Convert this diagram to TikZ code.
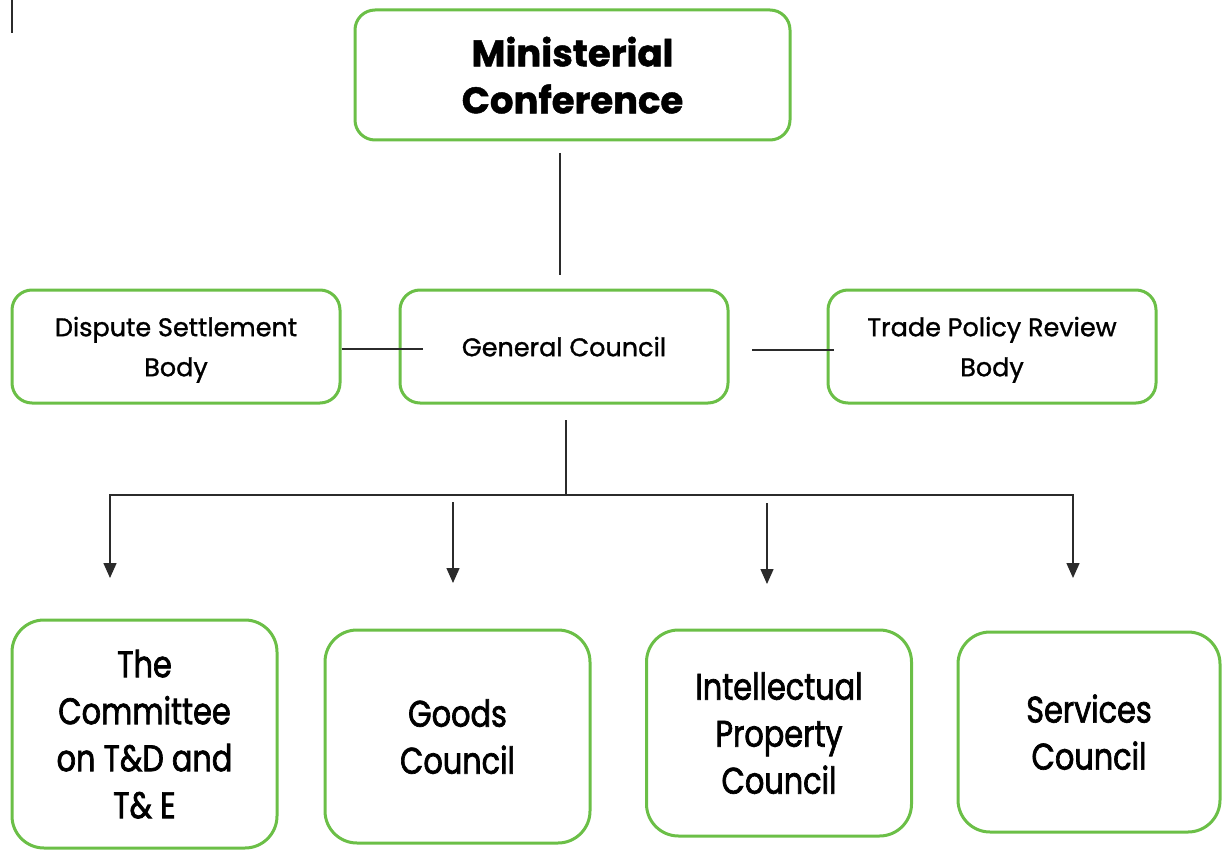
\documentclass[tikz,border=0pt]{standalone}
\usepackage{fontspec}
\setmainfont{Poppins}[FakeBold=1.2]
\newfontfamily\unitfont{Poppins}[FakeStretch=0.82,FakeBold=1.8]
\usepackage{xcolor}
\definecolor{cFrame}{HTML}{6BBF47}
\definecolor{cLine}{HTML}{2B2B2B}
\usetikzlibrary{positioning,arrows.meta,calc}
\tikzset{
  node-box/.style={draw=cFrame,line width=3pt,rounded corners=20pt,
    minimum width=328pt,minimum height=113pt,inner sep=0pt,align=center,
    text depth=0pt,font=\fontsize{25.5}{40}\selectfont},
  node-head/.style={node-box,minimum width=435pt,minimum height=130pt,
    font=\fontsize{37}{47}\selectfont\bfseries},
  node-unit/.style={node-box,rounded corners=32pt,minimum width=265pt,
    font=\unitfont\fontsize{37}{47}\selectfont},
  link/.style={line width=1.5pt,draw=cLine},
  arrow/.style={link,-{Triangle[length=15pt,width=13pt]}},
}

\begin{document}
\begin{tikzpicture}[x=1pt,y=-1pt]
  \useasboundingbox (0,0) rectangle (1222,850);
  \draw[link] (12,0) -- (12,33);

  % top level
  \node[node-head] (mc) at (572.5,75) {Ministerial\\Conference};

  % middle row
  \node[node-box] (dsb)  at (176,346.5) {Dispute Settlement\\Body};
  \node[node-box] (gc)   at (564,346.5) {General Council};
  \node[node-box] (tprb) at (992,346.5) {Trade Policy Review\\Body};

  % councils
  \node[node-unit,minimum height=228pt] (ctd)   at (144.5,734) {The\\Committee\\on T\&D and\\T\& E};
  \node[node-unit,minimum height=213pt] (goods) at (457.5,736.5) {Goods\\Council};
  \node[node-unit,minimum height=206pt] (ipc)   at (779,733) {Intellectual\\Property\\Council};
  \node[node-unit,minimum height=200pt,minimum width=262pt] (svc) at (1089,732) {Services\\Council};

  % loose ends of the connectors
  \coordinate (mc-out)    at (560,153);
  \coordinate (gc-in)     at (560,275);
  \coordinate (gc-left)   at (423,349);
  \coordinate (gc-right)  at (752,350);
  \coordinate (tprb-in)   at (834,350);
  \coordinate (gc-out)    at (566,420);
  \coordinate (bus)       at (566,495);
  \coordinate (bus-w)     at (110,495);
  \coordinate (bus-e)     at (1073,495);
  \coordinate (ctd-in)    at (110,578);
  \coordinate (goods-top) at (453,502);
  \coordinate (goods-in)  at (453,583);
  \coordinate (ipc-top)   at (767,503);
  \coordinate (ipc-in)    at (767,584);
  \coordinate (svc-in)    at (1073,578);

  \draw[link] (mc-out) -- (gc-in);
  \draw[link] (dsb.east |- gc-left) -- (gc-left);
  \draw[link] (gc-right) -- (tprb-in);
  \draw[link] (gc-out) -- (bus);
  \draw[link,{Triangle[length=15pt,width=13pt]}-{Triangle[length=15pt,width=13pt]}]
    (ctd-in) -- (bus-w) -- (bus-e) -- (svc-in);
  \draw[arrow] (goods-top) -- (goods-in);
  \draw[arrow] (ipc-top) -- (ipc-in);
\end{tikzpicture}
\end{document}
